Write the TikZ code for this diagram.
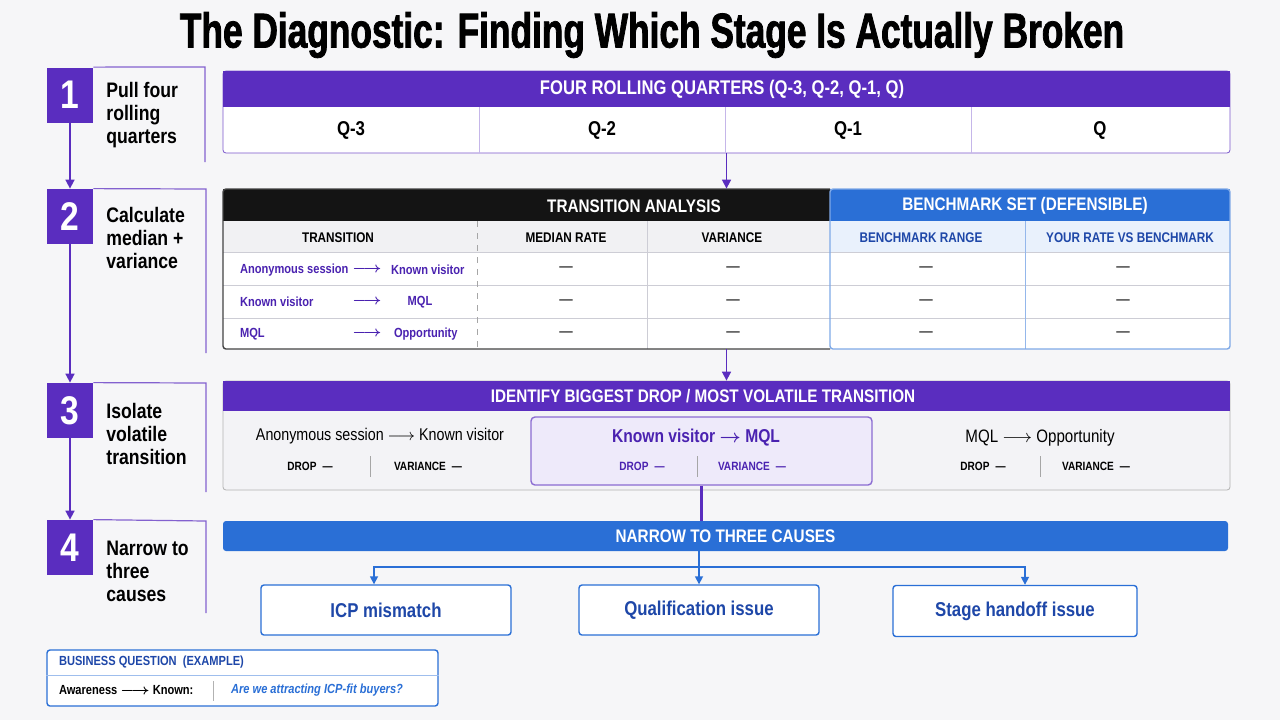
\documentclass[tikz,border=0pt]{standalone}
\usepackage{fontspec}
\setmainfont{Liberation Sans}[FakeStretch=0.84]
\newfontfamily\titlefont{Liberation Sans}[FakeStretch=0.72,FakeBold=1.6]
\usetikzlibrary{arrows.meta}

\definecolor{bgc}{HTML}{F6F6F8}
\definecolor{vio}{HTML}{5A2DBF}
\definecolor{viotxt}{HTML}{4A22B0}
\definecolor{violight}{HTML}{EEEAFA}
\definecolor{blu}{HTML}{2A6FD6}
\definecolor{blutxt}{HTML}{1E47A8}
\definecolor{blulight}{HTML}{E9F1FC}
\definecolor{ink}{HTML}{141414}
\definecolor{rowgray}{HTML}{F1F1F3}
\definecolor{bodygray}{HTML}{F3F3F6}
\definecolor{gridc}{HTML}{CDCDD5}

\newcommand{\fsz}[1]{\fontsize{#1}{#1}\selectfont}

\begin{document}
\begin{tikzpicture}[x=0.5pt,y=-0.5pt,
    stepnum/.style={rectangle,fill=vio,text=white,font=\bfseries\fsz{20},minimum width=23pt,minimum height=27.5pt,inner sep=0pt},
    steptext/.style={anchor=west,align=left,inner sep=0pt,font=\bfseries\fontsize{10.5}{11.5}\selectfont},
    frame/.style={vio!75,line width=0.6pt},
    flow/.style={vio,line width=0.8pt,-{Triangle[length=4.5pt,width=4.5pt]}},
    flowb/.style={blu,line width=0.8pt,-{Triangle[length=4pt,width=4pt]}},
    panel/.style={rectangle,inner sep=0pt,minimum width=503.5pt},
    headtxt/.style={text=white,font=\bfseries\fsz{9.1}},
    colhead/.style={font=\bfseries\fsz{7}},
    rowtxt/.style={text=viotxt,font=\bfseries\boldmath\fsz{6.6}},
    emdash/.style={font=\fsz{8}},
    small/.style={font=\bfseries\fsz{6}},
    cause/.style={rectangle,draw=blu,fill=white,line width=0.7pt,rounded corners=1.5pt,text=blutxt,font=\bfseries\fsz{10},minimum height=25pt},
    ]

    \fill[bgc] (0,0) rectangle (1280,720);
    \useasboundingbox (0,0) rectangle (1280,720);

    \node[font=\titlefont\bfseries\fsz{24.5}] (title) at (652,35) {The Diagnostic: Finding Which Stage Is Actually Broken};

    % steps on the left
    \node[stepnum] (n1) at (70,95) {1};
    \node[stepnum] (n2) at (70,216.5) {2};
    \node[stepnum] (n3) at (70,410.5) {3};
    \node[stepnum] (n4) at (70,547.5) {4};

    \node[steptext] (t1) at (106,115) {Pull four\\rolling\\quarters};
    \node[steptext] (t2) at (106,238) {Calculate\\median +\\variance};
    \node[steptext] (t3) at (106,434) {Isolate\\volatile\\transition};
    \node[steptext] (t4) at (106,571) {Narrow to\\three\\causes};

    \draw[frame] (n1.north east) -- (205,67) -- (205,162);
    \draw[frame] (n2.north east) -- (206,189) -- (206,353);
    \draw[frame] (n3.north east) -- (206,383) -- (206,492);
    \draw[frame] (n4.north east) -- (206,521) -- (206,613);

    \draw[flow] (n1) -- (n2);
    \draw[flow] (n2) -- (n3);
    \draw[flow] (n3) -- (n4);

    % four rolling quarters
    \node[panel,minimum height=41pt,fill=white,draw=vio!80,rounded corners=1.5pt] (quarters) at (726.5,112) {};
    \fill[vio] (223,71) rectangle (1230,107);
    \node[headtxt,font=\bfseries\fsz{9.9}] (qhead) at (722,89) {FOUR ROLLING QUARTERS (Q-3, Q-2, Q-1, Q)};
    \draw[vio!35] (479,107) -- (479,153);
    \draw[vio!35] (725,107) -- (725,153);
    \draw[vio!35] (971,107) -- (971,153);
    \node[font=\bfseries\fsz{10}] (q3) at (351,130) {Q-3};
    \node[font=\bfseries\fsz{10}] (q2) at (602,130) {Q-2};
    \node[font=\bfseries\fsz{10}] (q1) at (848,130) {Q-1};
    \node[font=\bfseries\fsz{10}] (q0) at (1100,130) {Q};

    % transition analysis + benchmark set
    \node[panel,minimum height=80pt] (table) at (726.5,269) {};
    \fill[white] (223,189) rectangle (1230,349);
    \fill[ink] (223,189) rectangle (830,221);
    \fill[blu] (830,189) rectangle (1230,221);
    \fill[rowgray] (223,221) rectangle (830,252);
    \fill[blulight] (830,221) rectangle (1230,252);
    \draw[gridc] (223,252) -- (1230,252);
    \draw[gridc] (223,285) -- (1230,285);
    \draw[gridc] (223,318) -- (1230,318);
    \draw[gray!70,dashed] (477,221) -- (477,349);
    \draw[gridc] (647,221) -- (647,349);
    \draw[blu!50] (1025,221) -- (1025,349);
    \draw[ink!80,line width=0.7pt,rounded corners=1.5pt] (830,189) -- (223,189) -- (223,349) -- (830,349);
    \draw[blu!60,line width=0.7pt,rounded corners=1.5pt] (830,189) -- (1230,189) -- (1230,349) -- (830,349) -- cycle;

    \node[headtxt] (thead) at (634,206) {TRANSITION ANALYSIS};
    \node[headtxt] (bhead) at (1025,206) {BENCHMARK SET (DEFENSIBLE)};
    \node[colhead] (ch1) at (338,238) {TRANSITION};
    \node[colhead] (ch2) at (566,238) {MEDIAN RATE};
    \node[colhead] (ch3) at (732,238) {VARIANCE};
    \node[colhead,text=blutxt] (ch4) at (921,238) {BENCHMARK RANGE};
    \node[colhead,text=blutxt] (ch5) at (1130,238) {YOUR RATE VS BENCHMARK};

    \node[rowtxt,anchor=west] (r1a) at (233,270) {Anonymous session};
    \node[rowtxt] (r1x) at (367,270) {$\longrightarrow$};
    \node[rowtxt,anchor=west] (r1b) at (384,270) {Known visitor};
    \node[rowtxt,anchor=west] (r2a) at (233,302) {Known visitor};
    \node[rowtxt] (r2x) at (367,302) {$\longrightarrow$};
    \node[rowtxt] (r2b) at (420,302) {MQL};
    \node[rowtxt,anchor=west] (r3a) at (233,334) {MQL};
    \node[rowtxt] (r3x) at (367,334) {$\longrightarrow$};
    \node[rowtxt,anchor=west] (r3b) at (387,334) {Opportunity};

    \node[emdash] (d11) at (566,269) {—};
    \node[emdash] (d12) at (733,269) {—};
    \node[emdash] (d13) at (926,269) {—};
    \node[emdash] (d14) at (1123,269) {—};
    \node[emdash] (d21) at (566,302) {—};
    \node[emdash] (d22) at (733,302) {—};
    \node[emdash] (d23) at (926,302) {—};
    \node[emdash] (d24) at (1123,302) {—};
    \node[emdash] (d31) at (566,334) {—};
    \node[emdash] (d32) at (733,334) {—};
    \node[emdash] (d33) at (926,334) {—};
    \node[emdash] (d34) at (1123,334) {—};

    \draw[flow] (quarters) -- (table);

    % biggest drop / most volatile
    \node[panel,minimum height=54.5pt,fill=bodygray,draw=gray!60,rounded corners=1.5pt] (drops) at (726.5,435.5) {};
    \fill[vio] (223,381) rectangle (1230,411);
    \node[headtxt] (dhead) at (703,396) {IDENTIFY BIGGEST DROP / MOST VOLATILE TRANSITION};
    \node[rectangle,fill=violight,draw=vio!70,line width=0.7pt,rounded corners=2pt,minimum width=170.5pt,minimum height=34pt] (hl) at (701.5,451) {};

    \node[font=\fsz{8.5}] (l1) at (380,436) {Anonymous session $\longrightarrow$ Known visitor};
    \node[small] (l2) at (310,466) {DROP\enspace—};
    \node[small] (l3) at (428,466) {VARIANCE\enspace—};
    \draw[gray!70] (370,456) -- (370,477);

    \node[font=\bfseries\boldmath\fsz{9.3},text=viotxt] (m1) at (696,438) {Known visitor $\rightarrow$ MQL};
    \node[small,text=viotxt] (m2) at (642,466) {DROP\enspace—};
    \node[small,text=viotxt] (m3) at (752,466) {VARIANCE\enspace—};
    \draw[gray!70] (697,456) -- (697,477);

    \node[font=\fsz{9}] (k1) at (1040,438) {MQL $\longrightarrow$ Opportunity};
    \node[small] (k2) at (983,466) {DROP\enspace—};
    \node[small] (k3) at (1096,466) {VARIANCE\enspace—};
    \draw[gray!70] (1040,456) -- (1040,477);

    \draw[flow] (table) -- (drops);

    % narrow to three causes
    \node[rectangle,fill=blu,rounded corners=1.5pt,minimum width=502.5pt,minimum height=15pt,headtxt] (narrow) at (725.5,536) {NARROW TO THREE CAUSES};
    \draw[vio,line width=1.6pt] (hl.south) -- (hl.south |- narrow.north);

    \node[cause,minimum width=125pt] (c1) at (386,610) {ICP mismatch};
    \node[cause,minimum width=120pt] (c2) at (699,610) {Qualification issue};
    \node[cause,minimum width=122pt,minimum height=25.5pt] (c3) at (1015,611) {Stage handoff issue};

    \coordinate (split) at (699,567);
    \draw[flowb] (c2.north |- narrow.south) -- (c2);
    \draw[flowb] (split) -| (c1.north -| 374,0);
    \draw[flowb] (split) -| (c3.north -| 1025,0);

    % business question
    \node[rectangle,draw=blu,fill=white,line width=0.7pt,rounded corners=1.5pt,minimum width=195.5pt,minimum height=28pt] (bq) at (242.5,678) {};
    \draw[blu!45] (bq.west |- 0,675) -- (bq.east |- 0,675);
    \node[anchor=west,text=blutxt,font=\bfseries\fsz{6.6}] (bqhead) at (52,662) {BUSINESS QUESTION\ \ (EXAMPLE)};
    \node[anchor=west,font=\bfseries\boldmath\fsz{6.6}] (bqa) at (52,690) {Awareness $\longrightarrow$ Known:};
    \draw[gray!60] (213,681) -- (213,701);
    \node[anchor=west,text=blu,font=\bfseries\itshape\fsz{6.6}] (bqb) at (224,690) {Are we attracting ICP-fit buyers?};
\end{tikzpicture}
\end{document}
